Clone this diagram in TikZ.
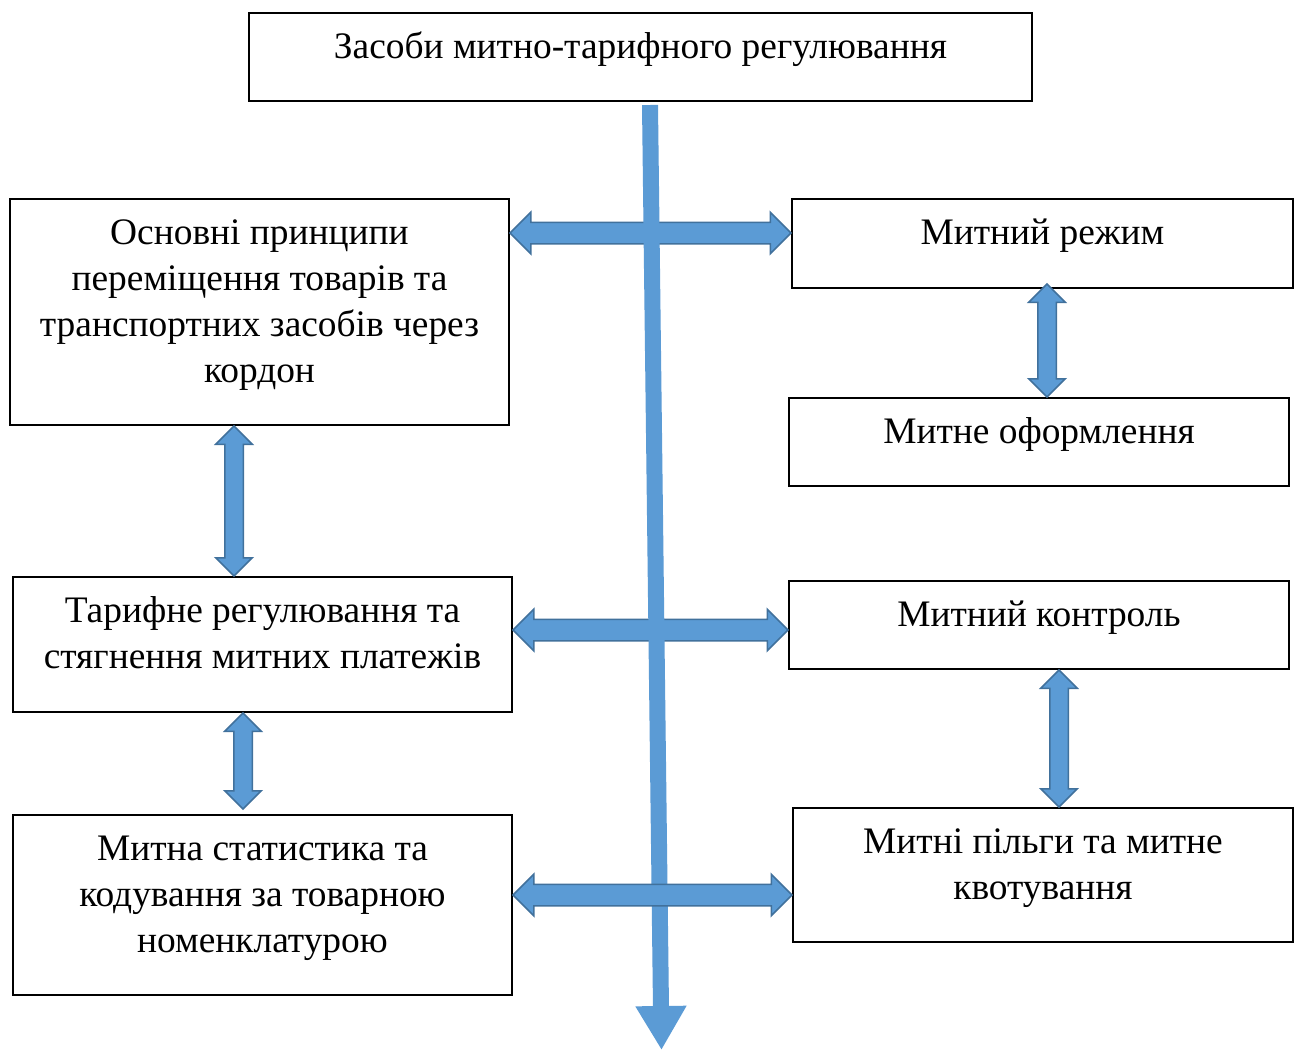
\documentclass[tikz,border=0pt]{standalone}
\usepackage{fontspec}
\setmainfont{Liberation Serif}
\usetikzlibrary{calc,fit,shapes.arrows,arrows.meta}
\definecolor{afill}{HTML}{5B9BD5}
\definecolor{aline}{HTML}{41719C}
\tikzset{
  box/.style={draw=black, line width=1pt, inner sep=0pt},
  txt/.style={inner sep=0pt, align=flush center, text width=245pt, font=\fontsize{18.7}{23}\selectfont},
  harrow/.style={double arrow, draw=aline, fill=afill, line width=0.75pt, inner xsep=0pt,
    inner ysep=5pt, double arrow head extend=5pt},
  varrow/.style={double arrow, draw=aline, fill=afill, line width=0.75pt, inner xsep=0pt,
    inner ysep=4.25pt, double arrow head extend=4.5pt},
  mainarrow/.style={draw=afill, line width=8pt, -{Triangle[width=24pt,length=22pt]}},
}
\newcommand\dblarr[3]{\path let \p1=#2, \p2=#3,
  \n1={veclen(\x2-\x1,\y2-\y1)}, \n2={atan2(\y2-\y1,\x2-\x1)} in
  node[#1, minimum height=\n1, rotate=\n2] at ($#2!0.5!#3$) {};}
\begin{document}
\begin{tikzpicture}[x=0.5pt,y=-0.5pt]
\useasboundingbox[fill=white] (0,0) rectangle (1301,1050);
% boxes
\node[box, fit={(249,13) (1032,101)}] (T) {};
\node[box, fit={(10,199) (509,425)}] (L1) {};
\node[box, fit={(792,199) (1293,288)}] (R1) {};
\node[box, fit={(789,398) (1289,486)}] (R2) {};
\node[box, fit={(13,577) (512,712)}] (L2) {};
\node[box, fit={(789,581) (1289,669)}] (R3) {};
\node[box, fit={(13,815) (512,995)}] (L3) {};
\node[box, fit={(793,808) (1293,942)}] (R4) {};
% texts
\node[txt, text width=380pt, anchor=base] (tT) at ($(T.north)+(0,46)$) {Засоби митно-тарифного регулювання};
\node[txt, anchor=base] (tL1) at ($(L1.north)+(0,46)$) {Основні принципи\\переміщення товарів та\\транспортних засобів через\\кордон};
\node[txt, anchor=base] (tR1) at ($(R1.north)+(0,46)$) {Митний режим};
\node[txt, anchor=base] (tR2) at ($(R2.north)+(0,46)$) {Митне оформлення};
\node[txt, anchor=base] (tL2) at ($(L2.north)+(0,46)$) {Тарифне регулювання та\\стягнення митних платежів};
\node[txt, anchor=base] (tR3) at ($(R3.north)+(0,46)$) {Митний контроль};
\node[txt, anchor=base] (tL3) at ($(L3.north)+(0,46)$) {Митна статистика та\\кодування за товарною\\номенклатурою};
\node[txt, anchor=base] (tR4) at ($(R4.north)+(0,46)$) {Митні пільги та митне\\квотування};
% horizontal arrows (upper two under the main arrow)
\dblarr{harrow}{(L1.east |- 0,233)}{(R1.west |- 0,233)}
\dblarr{harrow}{(L2.east |- 0,630)}{(R3.west |- 0,630)}
% main arrow
\coordinate (ms) at (650,105);
\coordinate (me) at (661.5,1050);
\draw[mainarrow] (ms) -- (me);
% bottom horizontal arrow
\dblarr{harrow}{(L3.east |- 0,895)}{(R4.west |- 0,895)}
% vertical arrows
\dblarr{varrow}{(234,0 |- L1.south)}{(234,0 |- L2.north)}
\dblarr{varrow}{(243,0 |- L2.south)}{(243,809)}
\dblarr{varrow}{(1047,284)}{(1047,0 |- R2.north)}
\dblarr{varrow}{(1059,0 |- R3.south)}{(1059,0 |- R4.north)}
\end{tikzpicture}
\end{document}
